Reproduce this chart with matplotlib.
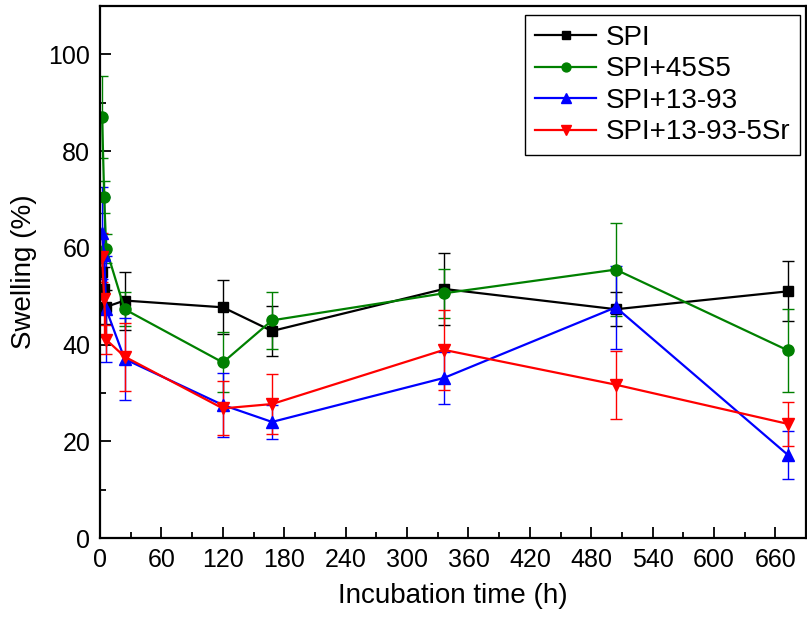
import matplotlib
matplotlib.use("Agg")
import matplotlib.pyplot as plt
from matplotlib.lines import Line2D
from matplotlib.ticker import MultipleLocator

plt.rcParams['font.family'] = ['Liberation Sans', 'DejaVu Sans']

# incubation times (h)
times = [2, 4, 6, 24, 120, 168, 336, 504, 672]

# swelling (%) and error bars
spi = [55.0, 51.5, 47.8, 49.1, 47.7, 42.8, 51.5, 47.3, 51.0]
spi_err = [4.0, 4.5, 3.5, 6.0, 5.6, 5.2, 7.4, 3.5, 6.2]

spi_45s5 = [87.1, 70.6, 59.8, 47.3, 36.3, 45.0, 50.6, 55.5, 38.8]
spi_45s5_err = [8.5, 3.3, 3.0, 3.5, 6.2, 5.9, 5.1, 9.6, 8.6]

spi_1393 = [63.0, 58.5, 47.3, 37.0, 27.5, 24.0, 33.1, 47.7, 17.2]
spi_1393_err = [9.5, 12.0, 11.0, 8.5, 6.6, 3.5, 5.4, 8.6, 5.0]

spi_1393_sr = [58.0, 49.5, 41.0, 37.5, 26.8, 27.7, 38.9, 31.7, 23.6]
spi_1393_sr_err = [5.0, 8.0, 3.0, 7.0, 5.6, 6.2, 8.3, 7.0, 4.5]

series = [
    ("SPI", spi, spi_err, "black", "s", 7),
    ("SPI+45S5", spi_45s5, spi_45s5_err, "#008000", "o", 8),
    ("SPI+13-93", spi_1393, spi_1393_err, "#0000ff", "^", 9),
    ("SPI+13-93-5Sr", spi_1393_sr, spi_1393_sr_err, "#ff0000", "v", 9),
]

fig = plt.figure(figsize=(8.07, 6.23), dpi=100)
ax = fig.add_axes([0.124, 0.1364, 0.875, 0.854])

handles = []
for label, y, err, color, marker, ms in series:
    ax.errorbar(times, y, yerr=err, color=color, marker=marker, markersize=ms,
                linewidth=1.6, elinewidth=1.0, capsize=4, capthick=1.0)
    # legend entries show only line + marker (no error bars)
    handles.append(Line2D([], [], color=color, marker=marker, markersize=ms * 0.8,
                          linewidth=1.6, label=label))

ax.set_xlim(0, 690)
ax.set_ylim(0, 110)
ax.xaxis.set_major_locator(MultipleLocator(60))
ax.xaxis.set_minor_locator(MultipleLocator(30))
ax.yaxis.set_major_locator(MultipleLocator(20))
ax.yaxis.set_minor_locator(MultipleLocator(10))
ax.tick_params(which='both', direction='in', top=False, right=False, width=1.3, labelsize=18)
ax.tick_params(which='major', length=8, pad=7)
ax.tick_params(which='minor', length=4.5)
for sp in ax.spines.values():
    sp.set_linewidth(1.6)

ax.set_xlabel("Incubation time (h)", fontsize=20, labelpad=8)
ax.set_ylabel("Swelling (%)", fontsize=20, labelpad=8)

leg = ax.legend(handles=handles, loc='upper right', bbox_to_anchor=(0.9915, 0.983),
                borderaxespad=0, fontsize=20, fancybox=False, edgecolor='black',
                framealpha=1, handlelength=2.2, handletextpad=0.35,
                labelspacing=0.2, borderpad=0.35)
leg.get_frame().set_linewidth(1.0)

fig.savefig("out.png", dpi=100)
